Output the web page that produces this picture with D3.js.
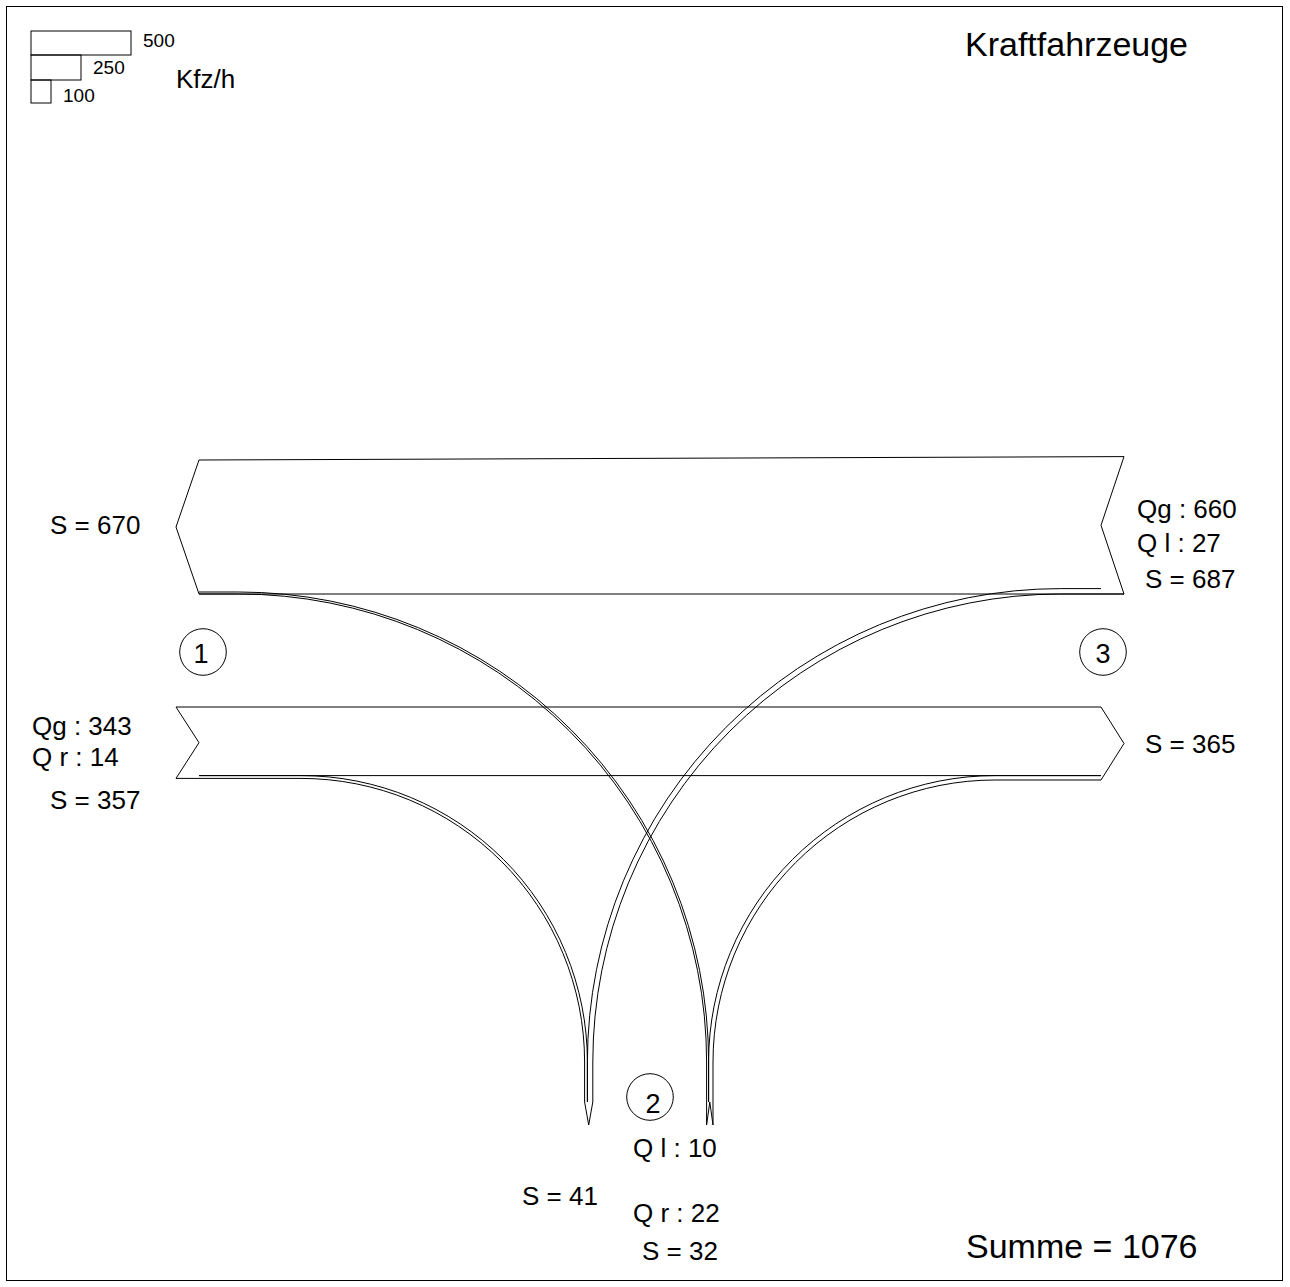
<!DOCTYPE html>
<html>
<head>
<meta charset="utf-8">
<script src="https://cdn.jsdelivr.net/npm/d3@7"></script>
<style>
  html, body { margin: 0; padding: 0; background: #fff; }
  svg { display: block; }
  text { font-family: "Liberation Sans", Arial, sans-serif; fill: #000; }
</style>
</head>
<body>
<svg id="chart" width="1290" height="1287"></svg>
<script>
// Turning streams at the T-junction (Kfz/h): arm of entry, arm of exit, label, volume
const streamFrom   = [3, 3, 1, 1, 2, 2];
const streamTo     = [1, 2, 3, 2, 1, 3];
const streamLabel  = ["Qg", "Q l", "Qg", "Q r", "Q l", "Q r"];
const streamVolume = [660, 27, 343, 14, 10, 22];

// Legend sample bars
const legendValues = [500, 250, 100];
const legendUnit = "Kfz/h";
const titleText = "Kraftfahrzeuge";
const armNames = ["1", "2", "3"];

// ---- helpers ----
const idx = (f, t) => streamFrom.findIndex((a, i) => a === f && streamTo[i] === t);
const vol = (f, t) => streamVolume[idx(f, t)];
const lab = (f, t) => streamLabel[idx(f, t)];
const entrySum = arm => d3.sum(streamVolume.filter((v, i) => streamFrom[i] === arm));
const exitSum  = arm => d3.sum(streamVolume.filter((v, i) => streamTo[i] === arm));
const total = d3.sum(streamVolume);

// band width scale: 500 Kfz/h -> 100 px
const w = d3.scaleLinear().domain([0, 500]).range([0, 100]);

// ---- layout ----
const X_BODY_L = 199, X_TIP_L = 176;    // arm 1 side
const X_BODY_R = 1101, X_TIP_R = 1124;  // arm 3 side
const Y_WEST_BASE = 594;                // flat south edge of westbound band
const Y_EAST_BASE = 707;                // flat north edge of eastbound band
const X_ARM2_EXIT = 584.6;              // west edge of the southbound exit on arm 2
const X_ARM2_ENTRY = 706.6;             // west edge of the northbound entry on arm 2
const Y_ARM2_BODY = 1102, Y_ARM2_TIP = 1125;
const Y_TURN = 1062;                    // curves become vertical here

const svg = d3.select("#chart");

// frame
svg.append("rect")
  .attr("x", 6.5).attr("y", 6.5).attr("width", 1276).attr("height", 1274)
  .attr("fill", "none").attr("stroke", "#000").attr("stroke-width", 1);

const g = svg.append("g")
  .attr("fill", "none").attr("stroke", "#000").attr("stroke-width", 1)
  .attr("stroke-linejoin", "miter");

function line(points) {
  const p = d3.path();
  points.forEach((pt, i) => i ? p.lineTo(pt[0], pt[1]) : p.moveTo(pt[0], pt[1]));
  return p.toString();
}

// one edge of a turning stream: horizontal run in the band, circular turn, vertical run on arm 2
function turnEdge(xStart, yBand, xArm, yEnd) {
  const p = d3.path();
  p.moveTo(xStart, yBand);
  p.arcTo(xArm, yBand, xArm, yEnd, Y_TURN - yBand);
  p.lineTo(xArm, yEnd);
  return p.toString();
}

// ---- westbound band (arm 3 -> arm 1) ----
const westTopR = Y_WEST_BASE - w(entrySum(3));
const westTopL = Y_WEST_BASE - w(exitSum(1));
g.append("path").attr("d", line([
  [X_BODY_L, Y_WEST_BASE],
  [X_TIP_L, (westTopL + Y_WEST_BASE) / 2],
  [X_BODY_L, westTopL],
  [X_TIP_R, westTopR],
  [X_BODY_R, (westTopR + Y_WEST_BASE) / 2],
  [X_TIP_R, Y_WEST_BASE]
]) + "Z");

// ---- eastbound band (arm 1 -> arm 3) ----
const eastBotL = Y_EAST_BASE + w(entrySum(1));
const eastBotR = Y_EAST_BASE + w(exitSum(3));
const eastThrough = Y_EAST_BASE + w(vol(1, 3));
g.append("path").attr("d", line([
  [X_TIP_L, eastBotL],
  [X_BODY_L, (Y_EAST_BASE + eastBotL) / 2],
  [X_TIP_L, Y_EAST_BASE],
  [X_BODY_R, Y_EAST_BASE],
  [X_TIP_R, (Y_EAST_BASE + eastBotR) / 2],
  [X_BODY_R, eastBotR]
]));
g.append("path").attr("d", line([[X_BODY_L, eastThrough], [X_BODY_R, eastThrough]]));

// ---- arm 2: exit (southbound) and entry (northbound) ----
const exitW = w(exitSum(2));
const entryW = w(entrySum(2));
g.append("path").attr("d", line([
  [X_ARM2_EXIT, Y_ARM2_BODY],
  [X_ARM2_EXIT + exitW / 2, Y_ARM2_TIP],
  [X_ARM2_EXIT + exitW, Y_ARM2_BODY]
]));
g.append("path").attr("d", line([
  [X_ARM2_ENTRY, Y_ARM2_TIP],
  [X_ARM2_ENTRY + entryW / 2, Y_ARM2_BODY],
  [X_ARM2_ENTRY + entryW, Y_ARM2_TIP]
]));

// ---- turning streams ----
// arm 1 right turn -> arm 2 (outer lane of the arm 2 exit)
const w12 = w(vol(1, 2));
g.append("path").attr("d", turnEdge(X_TIP_L, eastBotL, X_ARM2_EXIT, Y_ARM2_BODY));
g.append("path").attr("d", turnEdge(X_BODY_L, eastBotL - w12, X_ARM2_EXIT + w12, Y_ARM2_BODY));

// arm 3 left turn -> arm 2
const w32 = w(vol(3, 2));
g.append("path").attr("d", turnEdge(X_TIP_R, Y_WEST_BASE, X_ARM2_EXIT + w12 + w32, Y_ARM2_BODY));
g.append("path").attr("d", turnEdge(X_BODY_R, Y_WEST_BASE - w32, X_ARM2_EXIT + w12, Y_ARM2_BODY));

// arm 2 left turn -> arm 1
const w21 = w(vol(2, 1));
g.append("path").attr("d", turnEdge(X_BODY_L, Y_WEST_BASE, X_ARM2_ENTRY, Y_ARM2_TIP));
g.append("path").attr("d", turnEdge(X_BODY_L, Y_WEST_BASE - w21, X_ARM2_ENTRY + w21, Y_ARM2_BODY));

// arm 2 right turn -> arm 3
const w23 = w(vol(2, 3));
g.append("path").attr("d", turnEdge(X_BODY_R, eastBotR, X_ARM2_ENTRY + w21 + w23, Y_ARM2_TIP));
g.append("path").attr("d", turnEdge(X_BODY_R, eastBotR - w23, X_ARM2_ENTRY + w21, Y_ARM2_BODY));

// ---- arm numbers ----
const armMarks = [
  { name: armNames[0], cx: 203, cy: 652, tx: 201, ty: 663 },
  { name: armNames[1], cx: 650, cy: 1097, tx: 653, ty: 1113 },
  { name: armNames[2], cx: 1103, cy: 652, tx: 1103, ty: 663 }
];
armMarks.forEach(a => {
  g.append("circle").attr("cx", a.cx).attr("cy", a.cy).attr("r", 23.3);
  svg.append("text").attr("x", a.tx).attr("y", a.ty)
    .attr("text-anchor", "middle").attr("font-size", 27).text(a.name);
});

// ---- stream labels ----
const fs = 26;
const labels = [
  // arm 3
  { x: 1137, y: 518, t: `${lab(3, 1)} : ${vol(3, 1)}` },
  { x: 1137, y: 552, t: `${lab(3, 2)} : ${vol(3, 2)}` },
  { x: 1145, y: 588, t: `S = ${entrySum(3)}` },
  { x: 1145, y: 753, t: `S = ${exitSum(3)}` },
  // arm 1
  { x: 50, y: 534, t: `S = ${exitSum(1)}` },
  { x: 32, y: 735, t: `${lab(1, 3)} : ${vol(1, 3)}` },
  { x: 32, y: 766, t: `${lab(1, 2)} : ${vol(1, 2)}` },
  { x: 50, y: 809, t: `S = ${entrySum(1)}` },
  // arm 2
  { x: 522, y: 1205, t: `S = ${exitSum(2)}` },
  { x: 633, y: 1157, t: `${lab(2, 1)} : ${vol(2, 1)}` },
  { x: 633, y: 1222, t: `${lab(2, 3)} : ${vol(2, 3)}` },
  { x: 642, y: 1260, t: `S = ${entrySum(2)}` }
];
svg.selectAll("text.lbl").data(labels).join("text")
  .attr("class", "lbl")
  .attr("x", d => d.x).attr("y", d => d.y)
  .attr("font-size", fs).attr("xml:space", "preserve")
  .text(d => d.t);

// ---- title and total ----
svg.append("text").attr("x", 965).attr("y", 56).attr("font-size", 34).text(titleText);
svg.append("text").attr("x", 966).attr("y", 1258).attr("font-size", 34).text(`Summe = ${total}`);

// ---- legend ----
const legX = 31, legY = 31, legH = [24, 25, 23];
let yy = legY;
const lbaseline = [47, 74, 102];
legendValues.forEach((v, i) => {
  g.append("rect").attr("x", legX).attr("y", yy).attr("width", w(v)).attr("height", legH[i]);
  svg.append("text").attr("x", legX + w(v) + 12).attr("y", lbaseline[i])
    .attr("font-size", 19).text(v);
  yy += legH[i];
});
svg.append("text").attr("x", 176).attr("y", 88).attr("font-size", 26).text(legendUnit);
</script>
</body>
</html>
